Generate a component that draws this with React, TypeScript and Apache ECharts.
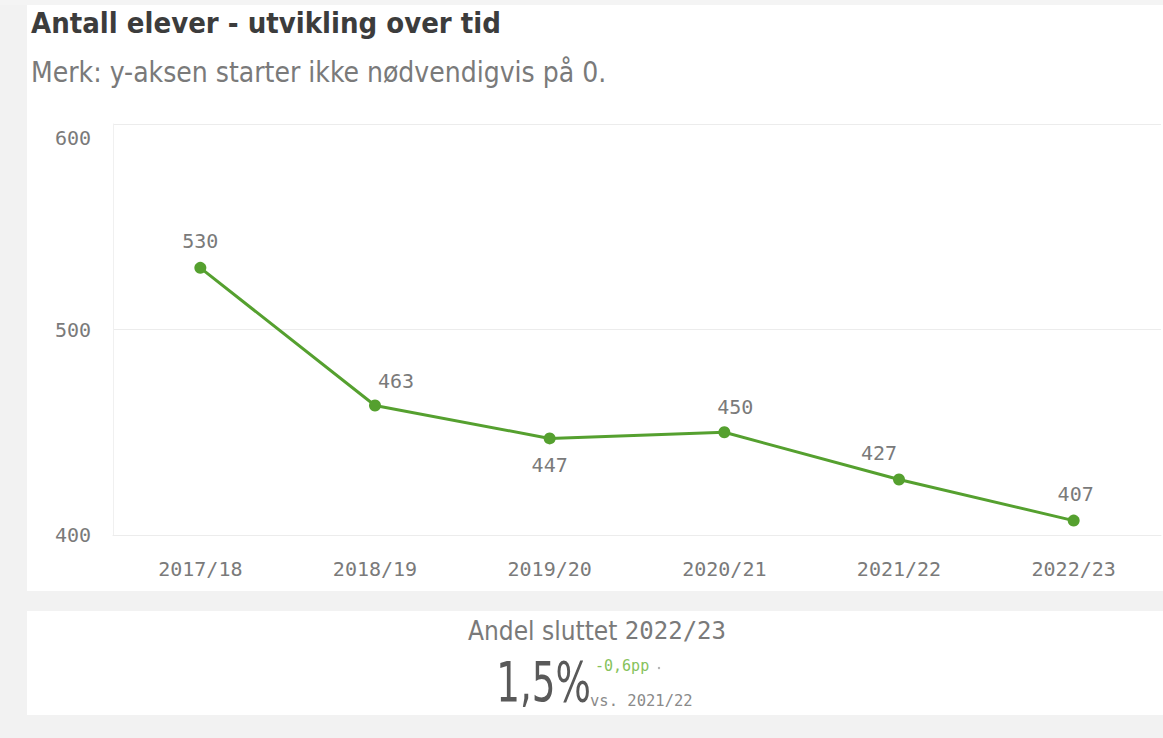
import React, { useEffect, useRef } from "react";
import * as echarts from "echarts";

const categories = ["2017/18", "2018/19", "2019/20", "2020/21", "2021/22", "2022/23"];
const students = [530, 463, 447, 450, 427, 407];
const yTicks = [400, 500, 600];

const titleText = "Antall elever - utvikling over tid";
const subtitleText = "Merk: y-aksen starter ikke nødvendigvis på 0.";
const kpiLabel = "Andel sluttet";
const kpiYear = "2022/23";
const kpiValue = "1,5%";
const kpiDelta = "-0,6pp";
const kpiCompare = "vs. 2021/22";

// label placement (style only)
const labelPlacement: { pos: "top" | "bottom"; offset: [number, number] }[] = [
  { pos: "top", offset: [0, 0] },
  { pos: "top", offset: [21, 2] },
  { pos: "bottom", offset: [0, 0] },
  { pos: "top", offset: [11, 2] },
  { pos: "top", offset: [-20, 0] },
  { pos: "top", offset: [2, 0] },
];

const GREEN = "#55a02f";
const MONO = "DejaVu Sans Mono";
const NARROW = "'DejaVu Sans Condensed', Roboto, sans-serif";

export default function App() {
  const ref = useRef<HTMLDivElement>(null);
  useEffect(() => {
    if (!ref.current) return;
    const chart = echarts.init(ref.current, undefined, { renderer: "svg" });
    const option: any = {
      animation: false,
      backgroundColor: "#ffffff",
      grid: { left: 113, right: 2, top: 124, bottom: 203, containLabel: false },
      xAxis: {
        type: "category",
        data: categories,
        boundaryGap: true,
        axisLine: { show: true, lineStyle: { color: "#ececec", width: 1 } },
        axisTick: { show: false },
        axisLabel: { color: "#7a7a7a", fontFamily: MONO, fontSize: 20, margin: 24 },
      },
      yAxis: {
        type: "value",
        min: yTicks[0],
        max: yTicks[yTicks.length - 1],
        interval: 100,
        axisLine: { show: true, lineStyle: { color: "#f0f0f0" } },
        axisTick: { show: false },
        splitLine: { show: true, lineStyle: { color: "#ececec", width: 1 } },
        axisLabel: {
          color: "#7a7a7a",
          fontFamily: MONO,
          fontSize: 20,
          margin: 22,
          formatter: (v: number) => (v === yTicks[yTicks.length - 1] ? `{top|${v}}` : `${v}`),
          rich: { top: { padding: [28, 0, 0, 0], fontFamily: MONO, fontSize: 20, color: "#7a7a7a" } },
        },
      },
      series: [
        {
          type: "line",
          data: students.map((v, i) => ({
            value: v,
            label: {
              position: labelPlacement[i].pos,
              offset: labelPlacement[i].offset,
            },
          })),
          symbol: "circle",
          symbolSize: 12,
          lineStyle: { color: GREEN, width: 3 },
          itemStyle: { color: GREEN },
          label: {
            show: true,
            color: "#7a7a7a",
            fontFamily: MONO,
            fontSize: 20,
            distance: 11,
          },
        },
      ],
      graphic: [
        { type: "rect", silent: true, z: -10, shape: { x: 0, y: 0, width: 27, height: 738 }, style: { fill: "#f2f2f2" } },
        { type: "rect", silent: true, z: -10, shape: { x: 0, y: 0, width: 1163, height: 5 }, style: { fill: "#f4f4f4" } },
        { type: "rect", silent: true, z: -10, shape: { x: 0, y: 591, width: 1163, height: 20 }, style: { fill: "#f2f2f2" } },
        { type: "rect", silent: true, z: -10, shape: { x: 0, y: 715, width: 1163, height: 23 }, style: { fill: "#f2f2f2" } },
        {
          type: "text",
          left: 31,
          top: 8,
          style: { text: titleText, fontFamily: NARROW, fontWeight: "bold", fontSize: 29, fill: "#3c3c3c" },
        },
        {
          type: "text",
          left: 31,
          top: 58,
          style: { text: subtitleText, fontFamily: NARROW, fontSize: 28, fill: "#7a7a7a" },
        },
        {
          type: "text",
          x: 597,
          y: 631,
          style: {
            text: `{a|${kpiLabel} }{b|${kpiYear}}`,
            align: "center",
            verticalAlign: "middle",
            rich: {
              a: { fontFamily: NARROW, fontSize: 26, fill: "#7a7a7a" },
              b: { fontFamily: MONO, fontSize: 24, fill: "#7a7a7a" },
            },
          },
        },
        {
          type: "text",
          x: 591,
          y: 710,
          scaleX: 0.74,
          style: {
            text: kpiValue,
            align: "right",
            verticalAlign: "bottom",
            fontFamily: NARROW,
            fontSize: 56,
            fill: "#595959",
          },
        },
        {
          type: "text",
          x: 595,
          y: 666,
          style: {
            text: kpiDelta,
            align: "left",
            verticalAlign: "middle",
            fontFamily: MONO,
            fontSize: 15,
            fill: "#86c25b",
          },
        },
        {
          type: "circle",
          shape: { cx: 659, cy: 668, r: 1.2 },
          style: { fill: "#b0b0b0" },
        },
        {
          type: "text",
          x: 590,
          y: 701,
          style: {
            text: kpiCompare,
            align: "left",
            verticalAlign: "middle",
            fontFamily: MONO,
            fontSize: 15.5,
            fill: "#8a8a8a",
          },
        },
      ],
    };
    chart.setOption(option);
    return () => chart.dispose();
  }, []);
  return (
    <div
      ref={ref}
      style={{ position: "fixed", left: 0, top: 0, width: 1163, height: 738 }}
    />
  );
}
